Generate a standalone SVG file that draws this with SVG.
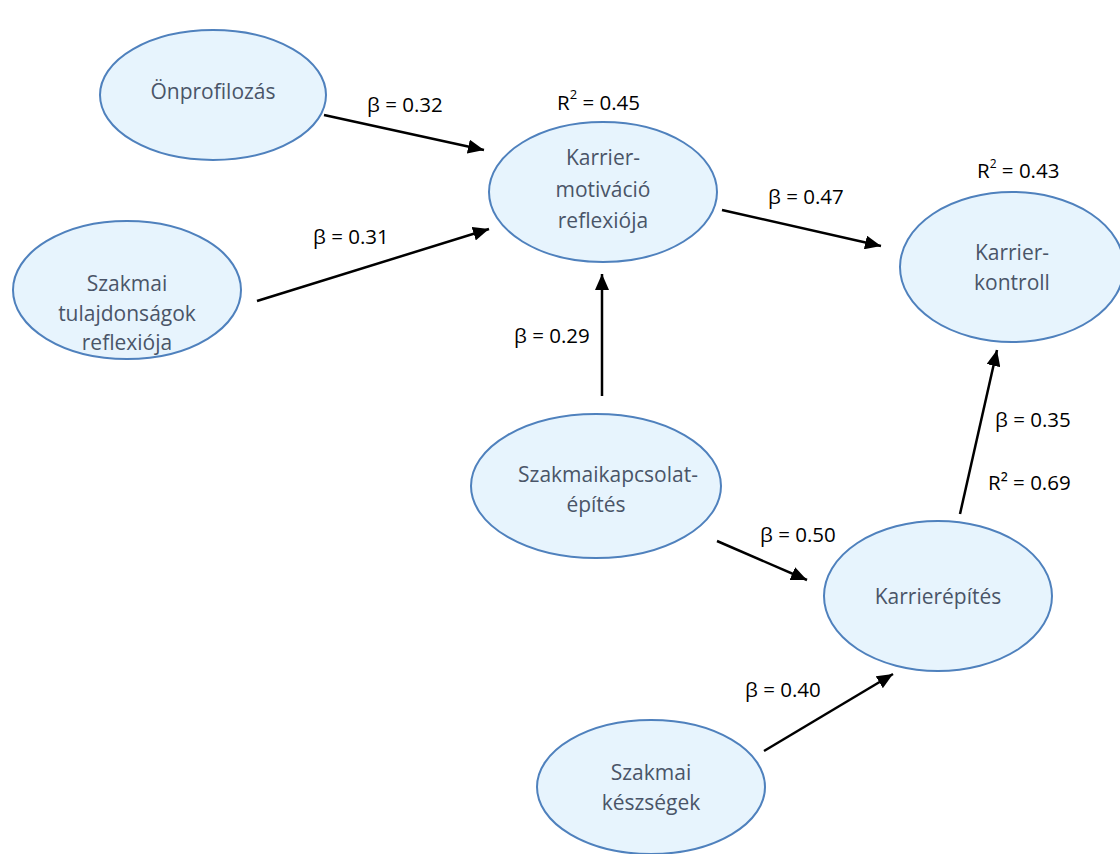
<svg xmlns="http://www.w3.org/2000/svg" width="1120" height="854" viewBox="0 0 1120 854">
<style>
.node{fill:#e7f4fd;stroke:#4f81bd;stroke-width:2}
.nt{font-family:"Open Sans","Noto Sans",sans-serif;font-size:21px;fill:#4a5568;text-anchor:middle}
.lbl{font-family:"Open Sans","Noto Sans",sans-serif;font-size:20.5px;fill:#000}
.edge{stroke:#000;stroke-width:2.5;fill:none;marker-end:url(#ah)}
</style>
<defs>
<marker id="ah" markerUnits="userSpaceOnUse" markerWidth="18" markerHeight="14" refX="16" refY="7" orient="auto">
<path d="M0,0 L16,7 L0,14 Z" fill="#000"/>
</marker>
</defs>
<rect width="1120" height="854" fill="#fff"/>
<g id="connectors">
<line class="edge" x1="324" y1="115" x2="484" y2="150"/>
<line class="edge" x1="257" y1="301" x2="489" y2="229"/>
<line class="edge" x1="602" y1="396" x2="602" y2="274"/>
<line class="edge" x1="722" y1="210" x2="881" y2="246"/>
<line class="edge" x1="717" y1="541" x2="807" y2="580"/>
<line class="edge" x1="764" y1="751" x2="893" y2="674"/>
<line class="edge" x1="960" y1="514" x2="997" y2="350"/>
</g>
<g id="labels">
<text class="lbl" x="367" y="112">β = 0.32</text>
<text class="lbl" x="313" y="244">β = 0.31</text>
<text class="lbl" x="514" y="343">β = 0.29</text>
<text class="lbl" x="768" y="204">β = 0.47</text>
<text class="lbl" x="760" y="542">β = 0.50</text>
<text class="lbl" x="745" y="697">β = 0.40</text>
<text class="lbl" x="995" y="427">β = 0.35</text>
<text class="lbl" x="557" y="110" font-size="23">R<tspan dy="-11" font-size="13">2</tspan><tspan dy="11"> = 0.45</tspan></text>
<text class="lbl" x="977" y="178" font-size="21.5">R<tspan dy="-10" font-size="12">2</tspan><tspan dy="10"> = 0.43</tspan></text>
<text class="lbl" x="988" y="490" font-size="22">R² = 0.69</text>
</g>
<g id="n-onprofilozas">
<ellipse class="node" cx="213" cy="95" rx="113" ry="65"/>
<text class="nt" x="213" y="99">Önprofilozás</text>
</g>
<g id="n-karriermotivacio">
<ellipse class="node" cx="603" cy="192" rx="114" ry="70"/>
<text class="nt" x="603" y="165">Karrier-</text>
<text class="nt" x="603" y="197">motiváció</text>
<text class="nt" x="603" y="228">reflexiója</text>
</g>
<g id="n-szakmaitulajdonsagok">
<ellipse class="node" cx="127" cy="290" rx="114" ry="69"/>
<text class="nt" x="127" y="291">Szakmai</text>
<text class="nt" x="127" y="321">tulajdonságok</text>
<text class="nt" x="127" y="350">reflexiója</text>
</g>
<g id="n-karrierkontroll">
<ellipse class="node" cx="1012" cy="267" rx="112" ry="75"/>
<text class="nt" x="1012" y="260">Karrier-</text>
<text class="nt" x="1012" y="290">kontroll</text>
</g>
<g id="n-szakmaikapcsolat">
<ellipse class="node" cx="596" cy="486" rx="125" ry="72"/>
<text class="nt" x="608" y="482">Szakmaikapcsolat-</text>
<text class="nt" x="596" y="512">építés</text>
</g>
<g id="n-karrierepites">
<ellipse class="node" cx="938" cy="596" rx="114" ry="75"/>
<text class="nt" x="938" y="604">Karrierépítés</text>
</g>
<g id="n-szakmaikeszsegek">
<ellipse class="node" cx="651" cy="787" rx="114" ry="67"/>
<text class="nt" x="651" y="780">Szakmai</text>
<text class="nt" x="651" y="810">készségek</text>
</g>
</svg>
